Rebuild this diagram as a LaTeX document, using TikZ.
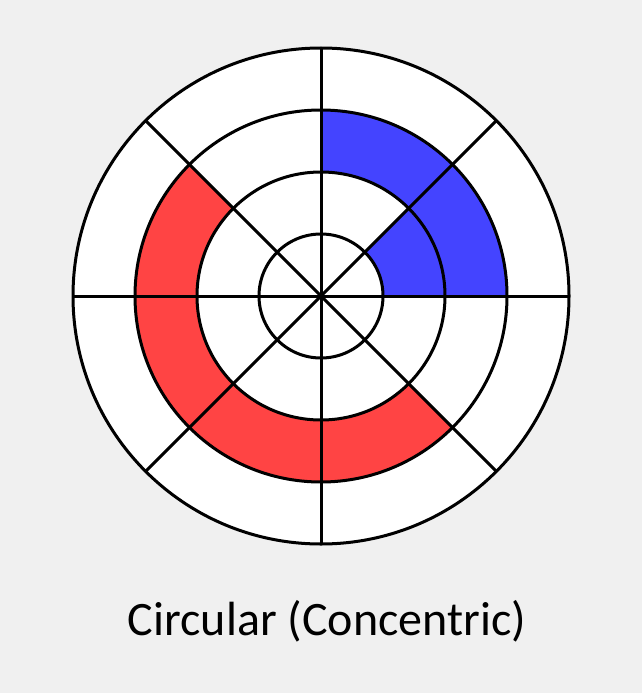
\documentclass[tikz,border=0pt]{standalone}
\usepackage{fontspec}
\setmainfont{Carlito}
\usetikzlibrary{positioning,calc}
\definecolor{ccbg}{HTML}{F0F0F0}
\definecolor{ccblue}{HTML}{4444FF}
\definecolor{ccred}{HTML}{FF4444}
\tikzset{
  ringline/.style={draw=black,line width=3pt},
  spoke/.style={draw=black,line width=3pt},
  bluefill/.style={fill=ccblue},
  redfill/.style={fill=ccred},
  caption/.style={font=\fontsize{48}{54}\selectfont,text=black,inner sep=0pt},
}
\begin{document}
\begin{tikzpicture}[x=1pt,y=-1pt]
    \fill[ccbg] (0,0) rectangle (642,693);
    \useasboundingbox (0,0) rectangle (642,693);
    \coordinate (c) at (321,296);
    % white disc
    \fill[white] (c) circle[radius=248];
    % coloured ring segments
    \fill[bluefill] (c) ++(0:124) arc[start angle=0,end angle=-90,radius=124]
      -- ++(0,-62) arc[start angle=-90,end angle=0,radius=186] -- cycle;
    \fill[bluefill] (c) ++(0:62) arc[start angle=0,end angle=-45,radius=62]
      -- ($(c)+(-45:124)$) arc[start angle=-45,end angle=0,radius=124] -- cycle;
    \fill[redfill] (c) ++(-135:124) arc[start angle=-135,end angle=-315,radius=124]
      -- ($(c)+(-315:186)$) arc[start angle=-315,end angle=-135,radius=186] -- cycle;
    % rings
    \foreach \r in {62,124,186,248}
      \draw[ringline] (c) circle[radius=\r];
    % spokes
    \foreach \a in {0,45,...,315}
      \draw[spoke] (c) -- ++(\a:248);
    \node[caption,anchor=base] (title) at (327,635) {Circular (Concentric)};
  \end{tikzpicture}
\end{document}
